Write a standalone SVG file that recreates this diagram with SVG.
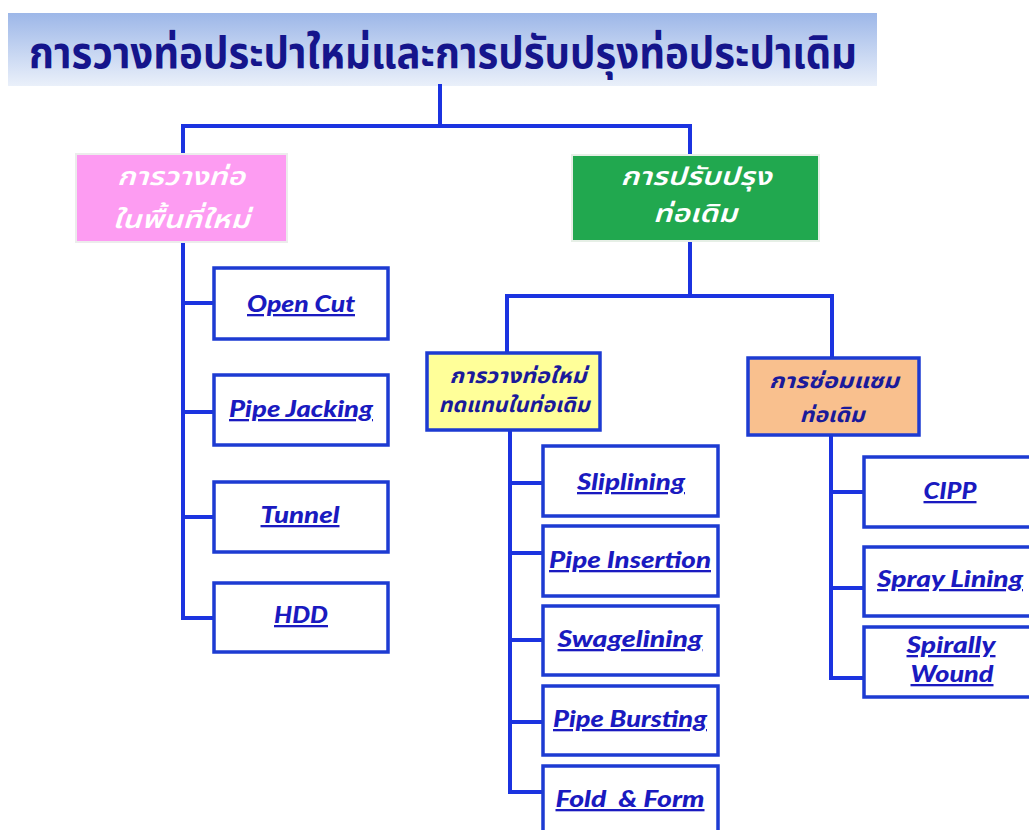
<svg xmlns="http://www.w3.org/2000/svg" width="1029" height="830" viewBox="0 0 1029 830">
<defs>
<linearGradient id="banner" x1="0" y1="0" x2="0" y2="1">
<stop offset="0" stop-color="#9db7e8"/>
<stop offset="1" stop-color="#eaf0fa"/>
</linearGradient>
<style>
.conn{stroke:#1b33e0;stroke-width:4;fill:none;stroke-linecap:square}
.leaf{fill:#ffffff;stroke:#1d3bd2;stroke-width:3.5}
.en{font-family:Lato,"Open Sans","Liberation Sans",sans-serif;font-weight:900;font-style:italic;font-size:23px;fill:#1a1ac0;text-decoration:underline;text-anchor:middle}
.th{font-family:"Noto Sans Thai","Noto Sans Thai UI","Noto Sans","DejaVu Sans",sans-serif;font-style:italic;text-anchor:middle}
.thw{fill:#ffffff;font-size:25px;font-weight:600}
.thb{fill:#1a1a9a;font-weight:bold;font-size:21px}
</style>
</defs>
<rect width="1029" height="830" fill="#ffffff"/>

<g id="title">
<rect x="8" y="13" width="869" height="73" fill="url(#banner)"/>
<text x="443" y="68" font-family="'Noto Sans Thai','Noto Sans Thai UI','Noto Sans','DejaVu Sans',sans-serif" font-weight="bold" font-size="44" fill="#15158c" text-anchor="middle" textLength="828" lengthAdjust="spacingAndGlyphs">การวางท่อประปาใหม่และการปรับปรุงท่อประปาเดิม</text>
</g>

<g id="connectors">
<path class="conn" d="M440,86 V126 M183,126 H690 M183,126 V154 M690,126 V155"/>
<path class="conn" d="M183,242 V618 M183,303 H214 M183,412 H214 M183,517 H214 M183,618 H214"/>
<path class="conn" d="M690,241 V296 M507,296 H832 M507,296 V353 M832,296 V358"/>
<path class="conn" d="M510,430 V792 M510,483 H543 M510,553 H543 M510,640 H543 M510,722 H543 M510,792 H543"/>
<path class="conn" d="M831,435 V678 M831,492 H864 M831,588 H864 M831,678 H864"/>
</g>

<g id="new-area">
<rect x="76" y="154" width="211" height="88" fill="#fd9cf2" stroke="#ececec" stroke-width="2"/>
<text class="th thw" x="181" y="185" textLength="128" lengthAdjust="spacingAndGlyphs">การวางท่อ</text>
<text class="th thw" x="181" y="228" textLength="137" lengthAdjust="spacingAndGlyphs">ในพื้นที่ใหม่</text>
</g>

<g id="rehab">
<rect x="572" y="155" width="247" height="86" fill="#21a84f" stroke="#e6efe6" stroke-width="2"/>
<text class="th thw" x="696" y="185" textLength="151" lengthAdjust="spacingAndGlyphs">การปรับปรุง</text>
<text class="th thw" x="695" y="222" textLength="84" lengthAdjust="spacingAndGlyphs">ท่อเดิม</text>
</g>

<g id="replace">
<rect x="427" y="353" width="173" height="77" fill="#ffff99" stroke="#1d3bd2" stroke-width="3.5"/>
<text class="th thb" x="518" y="383" textLength="137" lengthAdjust="spacingAndGlyphs">การวางท่อใหม่</text>
<text class="th thb" x="514" y="412" textLength="151" lengthAdjust="spacingAndGlyphs">ทดแทนในท่อเดิม</text>
</g>

<g id="repair">
<rect x="748" y="358" width="171" height="77" fill="#f9c08e" stroke="#1d3bd2" stroke-width="3.5"/>
<text class="th thb" x="834" y="388" textLength="130" lengthAdjust="spacingAndGlyphs">การซ่อมแซม</text>
<text class="th thb" x="832" y="422" textLength="65" lengthAdjust="spacingAndGlyphs">ท่อเดิม</text>
</g>

<g id="open-cut"><rect class="leaf" x="214" y="268" width="174" height="71"/><text class="en" x="301" y="312" textLength="108" lengthAdjust="spacingAndGlyphs">Open Cut</text></g>
<g id="pipe-jacking"><rect class="leaf" x="214" y="375" width="174" height="70"/><text class="en" x="301" y="417" textLength="144" lengthAdjust="spacingAndGlyphs">Pipe Jacking</text></g>
<g id="tunnel"><rect class="leaf" x="214" y="482" width="174" height="70"/><text class="en" x="300" y="523" textLength="79" lengthAdjust="spacingAndGlyphs">Tunnel</text></g>
<g id="hdd"><rect class="leaf" x="214" y="583" width="174" height="69"/><text class="en" x="301" y="623" textLength="54" lengthAdjust="spacingAndGlyphs">HDD</text></g>

<g id="sliplining"><rect class="leaf" x="543" y="446" width="175" height="70"/><text class="en" x="631" y="490" textLength="108" lengthAdjust="spacingAndGlyphs">Sliplining</text></g>
<g id="pipe-insertion"><rect class="leaf" x="543" y="526" width="175" height="70"/><text class="en" x="630" y="568" textLength="162" lengthAdjust="spacingAndGlyphs">Pipe Insertion</text></g>
<g id="swagelining"><rect class="leaf" x="543" y="606" width="175" height="69"/><text class="en" x="630" y="647" textLength="145" lengthAdjust="spacingAndGlyphs">Swagelining</text></g>
<g id="pipe-bursting"><rect class="leaf" x="543" y="686" width="175" height="69"/><text class="en" x="630" y="727" textLength="154" lengthAdjust="spacingAndGlyphs">Pipe Bursting</text></g>
<g id="fold-form"><rect class="leaf" x="543" y="766" width="175" height="70"/><text class="en" x="630" y="807" textLength="149" lengthAdjust="spacingAndGlyphs" xml:space="preserve">Fold  &amp; Form</text></g>

<g id="cipp"><rect class="leaf" x="864" y="457" width="175" height="70"/><text class="en" x="950" y="499" textLength="53" lengthAdjust="spacingAndGlyphs">CIPP</text></g>
<g id="spray-lining"><rect class="leaf" x="864" y="547" width="175" height="69"/><text class="en" x="950" y="587" textLength="146" lengthAdjust="spacingAndGlyphs">Spray Lining</text></g>
<g id="spirally-wound"><rect class="leaf" x="864" y="627" width="175" height="70"/><text class="en" x="951" y="653" textLength="89" lengthAdjust="spacingAndGlyphs">Spirally</text><text class="en" x="952" y="682" textLength="83" lengthAdjust="spacingAndGlyphs">Wound</text></g>
</svg>
